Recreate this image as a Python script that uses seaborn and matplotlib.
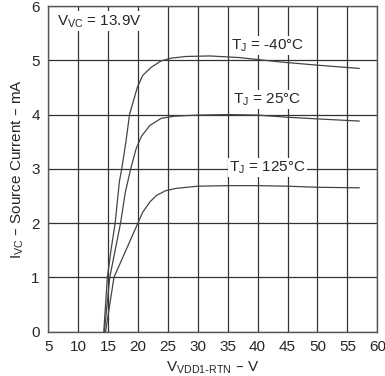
import matplotlib
matplotlib.use("Agg")
import matplotlib.pyplot as plt
import seaborn as sns
import pandas as pd

v_m40 = [14.3, 14.9, 15.5, 16.2, 16.9, 17.3, 18.0, 18.6, 19.9, 20.8, 22.2, 23.9, 25.6, 28.0, 32.0, 37.0, 43.7, 50.0, 57.0]
i_m40 = [0.0, 1.0, 1.5, 2.0, 2.76, 3.0, 3.5, 4.0, 4.5, 4.72, 4.87, 4.99, 5.04, 5.07, 5.08, 5.05, 4.97, 4.91, 4.85]

v_25 = [14.4, 15.3, 16.2, 17.1, 17.9, 18.8, 19.7, 20.6, 22.0, 23.9, 26.1, 30.0, 35.0, 40.0, 45.0, 50.0, 57.0]
i_25 = [0.0, 1.0, 1.5, 2.0, 2.57, 3.0, 3.37, 3.6, 3.8, 3.93, 3.97, 3.99, 4.0, 3.99, 3.95, 3.92, 3.88]

v_125 = [14.6, 16.0, 18.0, 20.0, 20.8, 22.0, 23.1, 24.7, 26.4, 30.0, 35.0, 40.0, 45.0, 50.0, 57.0]
i_125 = [0.0, 1.0, 1.5, 2.0, 2.2, 2.39, 2.51, 2.6, 2.64, 2.68, 2.69, 2.69, 2.68, 2.66, 2.65]

labels = [r"T$_\mathregular{J}$ = -40°C", r"T$_\mathregular{J}$ = 25°C", r"T$_\mathregular{J}$ = 125°C"]
label_pos = [(41.7, 5.27), (41.5, 4.28), (41.7, 3.02)]

x_ticks = [5, 10, 15, 20, 25, 30, 35, 40, 45, 50, 55, 60]
y_ticks = [0, 1, 2, 3, 4, 5, 6]

df = pd.concat([
    pd.DataFrame({"v": v_m40, "i": i_m40, "curve": "m40"}),
    pd.DataFrame({"v": v_25, "i": i_25, "curve": "25"}),
    pd.DataFrame({"v": v_125, "i": i_125, "curve": "125"}),
])

sns.set_style("white")
plt.rcParams["font.family"] = ["Liberation Sans", "DejaVu Sans"]

fig, ax = plt.subplots(figsize=(3.85, 3.76), dpi=100)
fig.subplots_adjust(left=0.125, right=0.98, top=0.984, bottom=0.118)

sns.lineplot(data=df, x="v", y="i", units="curve", estimator=None, sort=False,
             color="#444444", linewidth=0.9, ax=ax, zorder=3)

ax.set_xlim(5, 60)
ax.set_ylim(0, 6)
ax.set_xticks(x_ticks)
ax.set_yticks(y_ticks)
ax.grid(True, color="#333333", linewidth=0.9)
ax.tick_params(length=0, labelsize=11, pad=6)
for s in ax.spines.values():
    s.set_color("#555555")
    s.set_linewidth(1.0)

ax.set_xlabel(r"V$_\mathregular{VDD1\text{-}RTN}$ – V", fontsize=11)
ax.set_ylabel(r"I$_\mathregular{VC}$ – Source Current – mA", fontsize=11)

ax.text(6.5, 5.72, r"V$_\mathregular{VC}$ = 13.9V", fontsize=11, va="center", ha="left",
        bbox=dict(facecolor="white", edgecolor="none", pad=1.0), zorder=4)
for lab, (x, y) in zip(labels, label_pos):
    ax.text(x, y, lab, fontsize=11, va="center", ha="center",
            bbox=dict(facecolor="white", edgecolor="none", pad=1.0), zorder=4)

fig.savefig("out.png", dpi=100)
